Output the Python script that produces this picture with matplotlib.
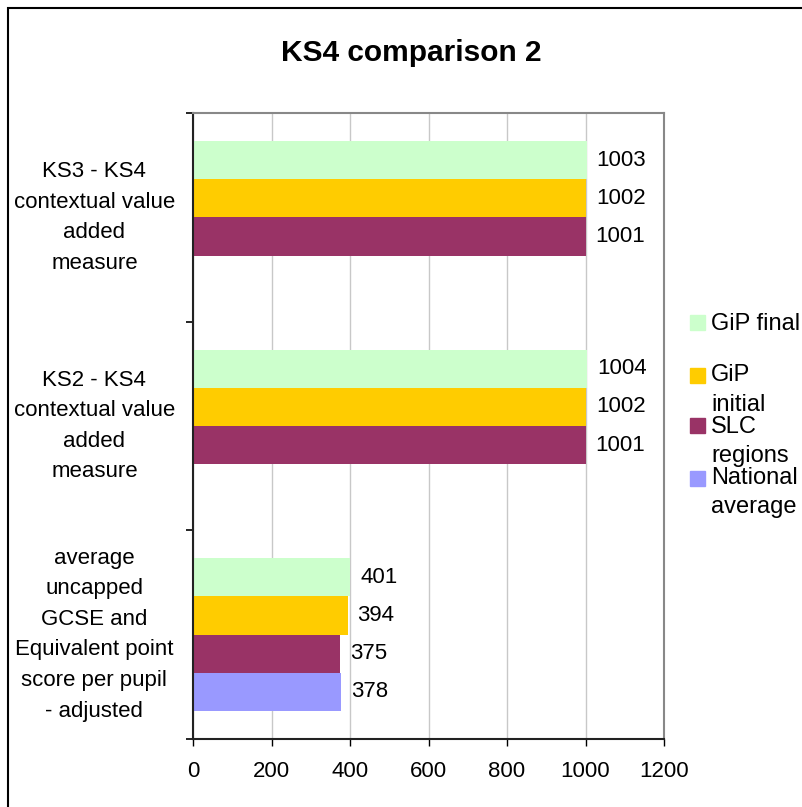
import numpy as np
import matplotlib
matplotlib.use('Agg')
import matplotlib.pyplot as plt
from matplotlib.patches import Rectangle

plt.rcParams['font.family'] = ['Liberation Sans', 'DejaVu Sans']

# data
categories = [
    'KS3 - KS4\ncontextual value\nadded\nmeasure',
    'KS2 - KS4\ncontextual value\nadded\nmeasure',
    'average\nuncapped\nGCSE and\nEquivalent point\nscore per pupil\n- adjusted',
]
series_names = ['GiP final', 'GiP initial', 'SLC regions', 'National average']
legend_text = ['GiP final', 'GiP\ninitial', 'SLC\nregions', 'National\naverage']
gip_final = [1003, 1004, 401]
gip_initial = [1002, 1002, 394]
slc_regions = [1001, 1001, 375]
national_avg = [np.nan, np.nan, 378]
colors = ['#CCFFCC', '#FFCC00', '#993366', '#9999FF']
x_ticks = [0, 200, 400, 600, 800, 1000, 1200]

W, H = 802, 807
fig = plt.figure(figsize=(W / 100, H / 100), dpi=100)
ax = fig.add_axes([193 / W, 1 - 739 / H, 471 / W, 626 / H])

series = [gip_final, gip_initial, slc_regions, national_avg]
y = np.arange(len(categories))
h = 0.183
for k, (vals, col) in enumerate(zip(series, colors)):
    pos = y + (k - 1.5) * h
    ax.barh(pos, vals, height=h, color=col, edgecolor='none', zorder=2,
            label=series_names[k])
    for p, v in zip(pos, vals):
        if np.isnan(v):
            continue
        ax.annotate(f'{v:.0f}', (v, p), xytext=(7, 0), textcoords='offset points',
                    ha='left', va='center', fontsize=16)

ax.set_xlim(0, 1200)
ax.set_ylim(len(categories) - 0.5, -0.5)
ax.set_xticks(x_ticks)
ax.set_xticklabels([str(t) for t in x_ticks], fontsize=16)
ax.tick_params(axis='x', length=5, width=1, pad=11, color='black')
ax.xaxis.grid(True, color='#c8c8c8', lw=1, zorder=0)

ax.set_yticks(np.arange(len(categories) + 1) - 0.5)
ax.set_yticklabels([])
ax.set_yticks(y, minor=True)
ax.set_yticklabels(categories, minor=True, fontsize=16, ha='center',
                   va='center', linespacing=1.6)
ax.tick_params(axis='y', which='minor', length=0, pad=71)
ax.tick_params(axis='y', which='major', length=5, width=1.2, color='black')

for s in ['left', 'bottom']:
    ax.spines[s].set_color('#222222')
    ax.spines[s].set_linewidth(1.5)
for s in ['top', 'right']:
    ax.spines[s].set_color('#888888')
    ax.spines[s].set_linewidth(1.5)

fig.text(411 / W, 1 - 53 / H, 'KS4 comparison 2', ha='center', va='center',
         fontsize=21.5, fontweight='bold')

# legend drawn by hand to match the wrapped entries
leg_y = [322, 375, 425, 478]
txt_y = [322, 373, 424, 475]
for lab, col, yy, ty in zip(legend_text, colors, leg_y, txt_y):
    fig.patches.append(Rectangle((690 / W, 1 - (yy + 7.5) / H), 15 / W, 15 / H,
                                 transform=fig.transFigure, color=col))
    fig.text(711 / W, 1 - (ty - 8.5) / H, lab, ha='left', va='top',
             fontsize=17, linespacing=1.42)

# outer border (only left and top edges visible)
fig.patches.append(Rectangle((8 / W, -0.1), 1.2, 1.1 - 8 / H, fill=False,
                             transform=fig.transFigure, lw=1.5, ec='black'))

fig.savefig('out.png', dpi=100)
